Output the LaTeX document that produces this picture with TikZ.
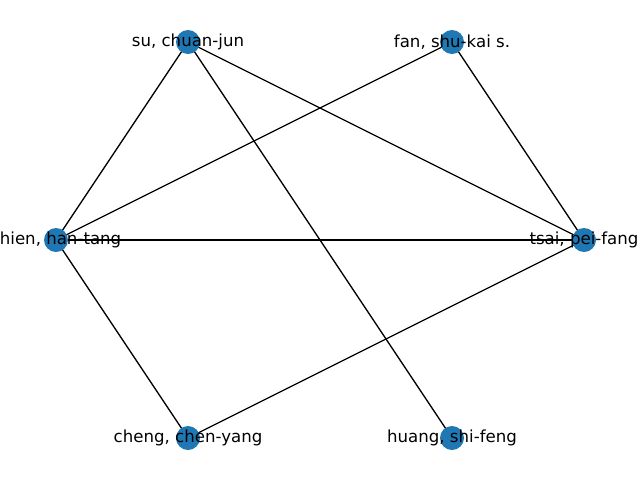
\documentclass[tikz,border=0pt]{standalone}
\usepackage{fontspec}
\setmainfont{DejaVu Sans}
\definecolor{nodeblue}{HTML}{1F77B4}
\begin{document}
\begin{tikzpicture}[x=1pt,y=-1pt,
  vertex/.style={circle,fill=nodeblue,minimum size=24pt,inner sep=0pt},
  lbl/.style={font=\fontsize{16.6}{19}\selectfont,inner sep=0pt,text=black},
  edge/.style={draw=black,line width=1.3pt}]
\useasboundingbox (0,0) rectangle (640,480);
\clip (0,0) rectangle (640,480);
\coordinate (su) at (188,42);
\coordinate (fan) at (452,42);
\coordinate (chien) at (56,240);
\coordinate (tsai) at (584,240);
\coordinate (cheng) at (188,438);
\coordinate (huang) at (452,438);
\path[edge] (su) -- (chien);
\path[edge] (su) -- (tsai);
\path[edge] (su) -- (huang);
\path[edge] (fan) -- (chien);
\path[edge] (fan) -- (tsai);
\path[edge] (chien) -- (tsai);
\path[edge] (chien) -- (cheng);
\path[edge] (tsai) -- (cheng);
\foreach \n in {su,fan,chien,tsai,cheng,huang}{\node[vertex] (v\n) at (\n) {};}
\node[lbl] (lsu) at (su) {su, chuan-jun};
\node[lbl] (lfan) at (fan) {fan, shu-kai s.};
\node[lbl] (lchien) at (chien) {chien, han-tang};
\node[lbl] (ltsai) at (tsai) {tsai, pei-fang};
\node[lbl] (lcheng) at (cheng) {cheng, chen-yang};
\node[lbl] (lhuang) at (huang) {huang, shi-feng};
\end{tikzpicture}
\end{document}
